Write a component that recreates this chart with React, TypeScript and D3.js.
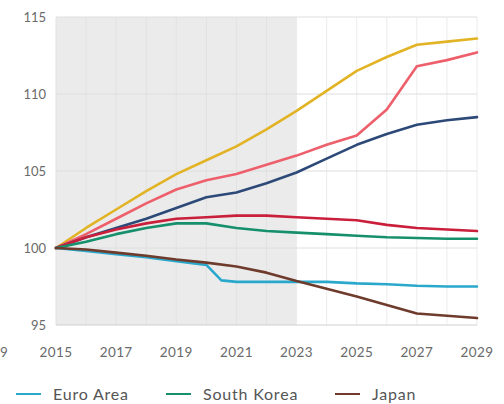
import React from "react";
import * as d3 from "d3";

const years = [2015, 2016, 2017, 2018, 2019, 2020, 2021, 2022, 2023, 2024, 2025, 2026, 2027, 2028, 2029];
const euroYears = [2015, 2016, 2017, 2018, 2019, 2020, 2020.5, 2021, 2022, 2023, 2024, 2025, 2026, 2027, 2028, 2029];

const yellowSeries = [100, 101.3, 102.5, 103.7, 104.8, 105.7, 106.6, 107.7, 108.9, 110.2, 111.5, 112.4, 113.2, 113.4, 113.6];
const pinkSeries = [100, 100.9, 101.9, 102.9, 103.8, 104.4, 104.8, 105.4, 106.0, 106.7, 107.3, 109.0, 111.8, 112.2, 112.7];
const navySeries = [100, 100.7, 101.3, 101.9, 102.6, 103.3, 103.6, 104.2, 104.9, 105.8, 106.7, 107.4, 108.0, 108.3, 108.5];
const redSeries = [100, 100.7, 101.2, 101.6, 101.9, 102.0, 102.1, 102.1, 102.0, 101.9, 101.8, 101.5, 101.3, 101.2, 101.1];
const southKorea = [100, 100.4, 100.9, 101.3, 101.6, 101.6, 101.3, 101.1, 101.0, 100.9, 100.8, 100.7, 100.65, 100.6, 100.6];
const euroArea = [100, 99.8, 99.6, 99.4, 99.15, 98.9, 97.9, 97.8, 97.8, 97.8, 97.8, 97.7, 97.65, 97.55, 97.5, 97.5];
const japan = [100, 99.9, 99.7, 99.5, 99.25, 99.05, 98.8, 98.4, 97.85, 97.35, 96.85, 96.3, 95.75, 95.6, 95.45];

const xTicks = [2015, 2017, 2019, 2021, 2023, 2025, 2027, 2029];
const yTicks = [95, 100, 105, 110, 115];
const shadedEnd = 2023;

const series = [
  { name: "Yellow", xs: years, values: yellowSeries, color: "#e2b324" },
  { name: "Pink", xs: years, values: pinkSeries, color: "#ee5f6c" },
  { name: "Navy", xs: years, values: navySeries, color: "#2c4977" },
  { name: "Red", xs: years, values: redSeries, color: "#c91f3b" },
  { name: "South Korea", xs: years, values: southKorea, color: "#16906c" },
  { name: "Euro Area", xs: euroYears, values: euroArea, color: "#2aa8cc" },
  { name: "Japan", xs: years, values: japan, color: "#6e3b2c" },
];

const legendItems = [
  { name: "Euro Area", color: "#2aa8cc" },
  { name: "South Korea", color: "#16906c" },
  { name: "Japan", color: "#6e3b2c" },
];

export default function App() {
  const W = 504, H = 404;
  const x = d3.scaleLinear().domain([2015, 2029]).range([56, 477]);
  const y = d3.scaleLinear().domain([95, 115]).range([325, 17]);
  const line = d3.line<[number, number]>().x(d => x(d[0])).y(d => y(d[1]));
  const font = "Lato, 'Open Sans', sans-serif";
  const allYears = d3.range(2015, 2030);
  const legendX = [16, 166, 335];

  return (
    <svg width={W} height={H} style={{ position: "absolute", left: 0, top: 0, background: "#fff" }}>
      <rect x={x(2015)} y={y(115)} width={x(shadedEnd) - x(2015)} height={y(95) - y(115)} fill="#ebebeb" />
      {allYears.map(yr => (
        <line key={yr} x1={x(yr)} x2={x(yr)} y1={y(115)} y2={y(95)}
          stroke={yr < shadedEnd ? "#e2e2e2" : "#ececec"} strokeWidth={1} />
      ))}
      {yTicks.map(t => (
        <g key={t}>
          <line x1={x(2015)} x2={x(2029)} y1={y(t)} y2={y(t)} stroke={t === 95 ? "#cfcfcf" : "#dedede"} strokeWidth={1} />
          <text x={46} y={y(t) + 4.5} textAnchor="end" fontFamily={font} fontSize={13} fill="#6a6a6a">{t}</text>
        </g>
      ))}
      {xTicks.map(t => (
        <text key={t} x={x(t)} y={357} textAnchor="middle" fontFamily={font} fontSize={13.5} letterSpacing={0.4} fill="#6a6a6a">{t}</text>
      ))}
      <text x={0} y={357} textAnchor="start" fontFamily={font} fontSize={13.5} fill="#6a6a6a">9</text>
      {series.map(s => (
        <path key={s.name} d={line(s.xs.map((yr, i) => [yr, s.values[i]] as [number, number])) || ""}
          fill="none" stroke={s.color} strokeWidth={2.6} strokeLinejoin="round" strokeLinecap="round" />
      ))}
      {legendItems.map((it, i) => (
        <g key={it.name}>
          <line x1={legendX[i]} x2={legendX[i] + 25} y1={394} y2={394} stroke={it.color} strokeWidth={2} />
          <text x={legendX[i] + 37} y={400} fontFamily={font} fontSize={16} letterSpacing={0.8} fill="#555">{it.name}</text>
        </g>
      ))}
    </svg>
  );
}
